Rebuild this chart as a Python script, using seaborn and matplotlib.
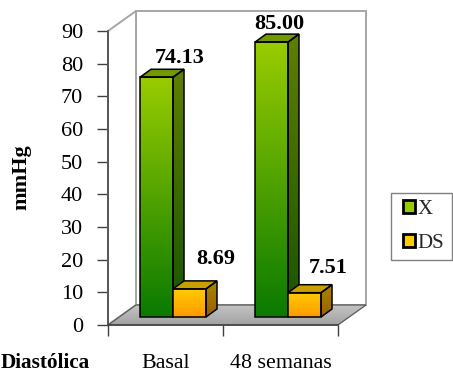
import numpy as np
import pandas as pd
import seaborn as sns
import matplotlib
matplotlib.use("Agg")
import matplotlib.pyplot as plt
from matplotlib.colors import LinearSegmentedColormap
from matplotlib.patches import Polygon, Rectangle
from matplotlib.transforms import Affine2D

categories = ["Basal", "48 semanas"]
series_names = ["X", "DS"]
x_values = [74.13, 85.00]
ds_values = [8.69, 7.51]
y_ticks = list(range(0, 100, 10))

W, H = 453, 373
sns.set_theme(style="white")
plt.rcParams["font.family"] = ["Liberation Serif", "DejaVu Serif"]

df = pd.DataFrame({
    "momento": categories * 2,
    "serie": [series_names[0]] * 2 + [series_names[1]] * 2,
    "valor": x_values + ds_values,
})

fig = plt.figure(figsize=(W / 100, H / 100), dpi=100, facecolor="white")
ax = fig.add_axes([108 / W, 1 - 325 / H, 230 / W, 294 / H])
ax.patch.set_visible(False)

sns.barplot(
    data=df, x="momento", y="valor", hue="serie", order=categories,
    hue_order=series_names, palette=["#7FB800", "#FFB800"], width=0.574,
    ax=ax, legend=False, edgecolor="black", linewidth=1.1, saturation=1,
)
ax.set_xlim(-0.5, 1.5)
ax.set_ylim(0, 90)

# Top-down pixel coordinates for the oblique box and bar faces
px = Affine2D().scale(1, -1).translate(0, H)


def gradient_face(verts, top, bottom, z):
    verts = np.asarray(verts, float)
    cmap = LinearSegmentedColormap.from_list("face", [bottom, top])
    extent = (verts[:, 0].min(), verts[:, 0].max(), verts[:, 1].max(), verts[:, 1].min())
    im = ax.imshow(
        np.linspace(1, 0, 128)[:, None], cmap=cmap, vmin=0, vmax=1, aspect="auto",
        origin="upper", extent=extent, transform=px, zorder=z, interpolation="bilinear",
    )
    im.set_clip_box(fig.bbox)
    im.set_clip_path(Polygon(verts, closed=True, transform=px))
    return im


def outline(verts, z, color="black", lw=1.1):
    ax.add_patch(Polygon(verts, closed=True, fill=False, edgecolor=color, linewidth=lw,
                         transform=px, zorder=z, clip_on=False, joinstyle="miter"))


# Back wall and floor of the plot box
wall_dx, wall_dy = 28, -20
x0, x1, y0, y1 = 108, 338, 325, 31
wall = [(x0 + wall_dx, y1 + wall_dy), (x1 + wall_dx, y1 + wall_dy),
        (x1 + wall_dx, y0 + wall_dy), (x0 + wall_dx, y0 + wall_dy)]
ax.add_patch(Polygon(wall, closed=True, facecolor="white", edgecolor="#A6A6A6", linewidth=1.4,
                     transform=px, zorder=0.5, clip_on=False))
side = [(x0, y1), (x0 + wall_dx, y1 + wall_dy), (x0 + wall_dx, y0 + wall_dy), (x0, y0)]
ax.add_patch(Polygon(side, closed=True, facecolor="white", edgecolor="#A6A6A6", linewidth=1.4,
                     transform=px, zorder=0.6, clip_on=False))
floor = [(x0, y0), (x1, y0), (x1 + wall_dx, y0 + wall_dy), (x0 + wall_dx, y0 + wall_dy)]
gradient_face(floor, "#C4C4C4", "#A2A2A2", 0.8)
outline(floor, 0.9, color="#5A5A5A", lw=0.9)

# Shaded bar faces, derived from the bars the library placed on its scales
depth_x, depth_y = 11, -8
plane_dx, plane_dy, plane_scale = 7.5, -8, 0.99
styles = [
    dict(front=("#99CC00", "#0A7A00"), side=("#5F7F00", "#175400"), lid="#739900"),
    dict(front=("#FFCC00", "#FF9900"), side=("#A88600", "#995F00"), lid="#C8A000"),
]
to_px = ax.transData + px.inverted()
z = 2.0
label_offsets = {0: [(23.5, -19), (8, -18.5)], 1: [(26.5, -30), (23.5, -25)]}
for bar_idx in range(2):
    for c_idx, container in enumerate(ax.containers):
        bar = container.patches[bar_idx]
        style = styles[c_idx]
        (ax0, ay0), (ax1, ay1) = to_px.transform(
            [(bar.get_x(), 0), (bar.get_x() + bar.get_width(), bar.get_height())])
        base = ay0 + plane_dy
        left, right = ax0 + plane_dx, ax1 + plane_dx
        top = base - (ay0 - ay1) * plane_scale
        front = [(left, top), (right, top), (right, base), (left, base)]
        lid = [(left, top), (left + depth_x, top + depth_y),
               (right + depth_x, top + depth_y), (right, top)]
        flank = [(right, top), (right + depth_x, top + depth_y),
                 (right + depth_x, base + depth_y), (right, base)]
        gradient_face(flank, *style["side"], z)
        gradient_face(lid, style["lid"], style["lid"], z + 0.01)
        gradient_face(front, *style["front"], z + 0.02)
        outline(flank, z + 0.03)
        outline(lid, z + 0.03)
        outline(front, z + 0.04)
        bar.set_visible(False)
        dx, dy = label_offsets[c_idx][bar_idx]
        ax.text((left + right) / 2 + dx, top + dy, f"{bar.get_height():.2f}",
                transform=px, ha="center", va="center", fontsize=16,
                fontweight="bold", color="black", zorder=9, clip_on=False)
        z += 0.1

ax.set_xlim(-0.5, 1.5)
ax.set_ylim(0, 90)

# Axes, ticks and labels
for name in ("top", "right"):
    ax.spines[name].set_visible(False)
for name in ("left", "bottom"):
    ax.spines[name].set_color("#404040")
    ax.spines[name].set_linewidth(1.1)
    ax.spines[name].set_zorder(1.5)
ax.set_yticks(y_ticks)
ax.tick_params(axis="y", length=8, width=1.0, color="#404040", labelsize=16,
               labelcolor="black", pad=10, left=True)
ax.set_xticks([-0.5, 0.5, 1.5])
ax.set_xticklabels([])
ax.tick_params(axis="x", which="major", length=8, width=1.0, color="#404040", bottom=True)
ax.set_xticks([0, 1], minor=True)
ax.set_xticklabels(categories, minor=True)
ax.tick_params(axis="x", which="minor", length=0, labelsize=15.8, labelcolor="black", pad=21)
ax.set_xlabel("")
ax.set_ylabel("")
fig.text(21 / W, 1 - 177 / H, "mmHg", rotation=90, ha="center", va="center",
         fontsize=16, fontweight="bold", color="black")
fig.text(0.5 / W, 1 - 363 / H, "Diastólica", ha="left", va="center",
         fontsize=15.3, fontweight="bold", color="black")

# Legend box with its own frame
fig.add_artist(Rectangle((391 / W, 1 - 260 / H), 61 / W, 67 / H, transform=fig.transFigure,
                         facecolor="white", edgecolor="#808080", linewidth=1.0))
handles = [Rectangle((0, 0), 1, 1, facecolor=s["front"][0], edgecolor="black", linewidth=2.0)
           for s in styles]
leg = fig.legend(
    handles, series_names, loc="center", bbox_to_anchor=(423.5 / W, 1 - 226.5 / H),
    frameon=False, fontsize=15, handlelength=0.58, handleheight=0.58, handletextpad=0.15,
    labelspacing=0.75, borderpad=0.5, borderaxespad=0,
)
leg.set_zorder(5)

fig.savefig("out.png", dpi=100, facecolor="white")
